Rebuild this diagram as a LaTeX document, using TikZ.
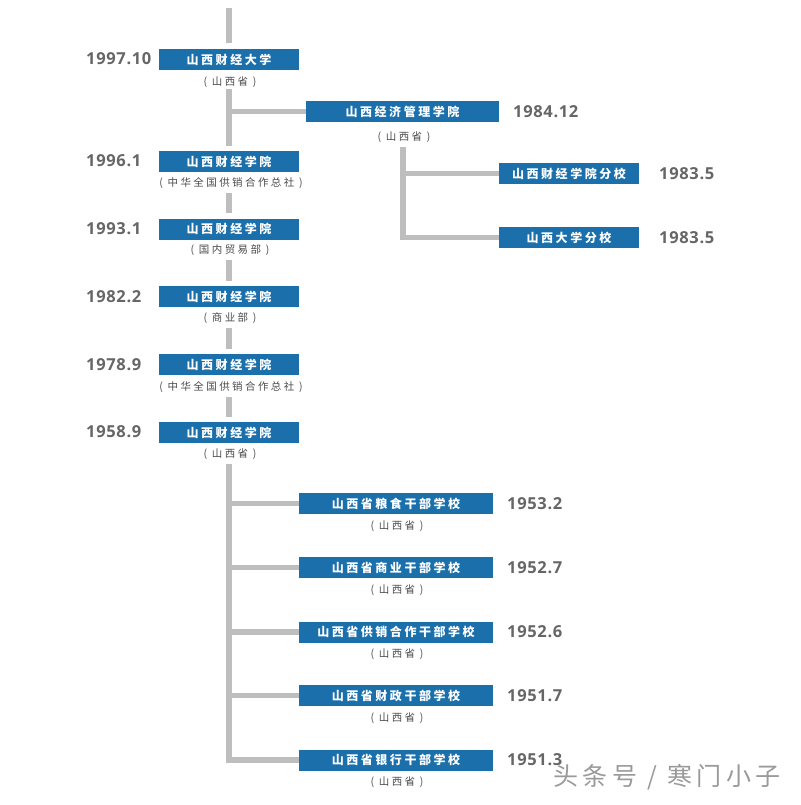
\documentclass[tikz,border=0pt]{standalone}
\usepackage{fontspec}
\setmainfont{Open Sans}
\newfontfamily\cjkbox{Noto Sans CJK SC}[LetterSpace=21]
\newfontfamily\cjksub{Noto Sans CJK SC}[LetterSpace=23]
\newfontfamily\cjkwm{Noto Sans CJK SC}[LetterSpace=18]
\newfontfamily\yearfont{Open Sans}[LetterSpace=4]
\definecolor{boxblue}{HTML}{1B70AB}
\definecolor{trunkgray}{HTML}{BEBEBE}
\definecolor{yeargray}{HTML}{666666}
\definecolor{subgray}{HTML}{4A4A4A}
\definecolor{wmgray}{HTML}{9A9A9A}
\tikzset{
  box/.style={fill=boxblue, text=white, minimum height=21pt, inner sep=0pt,
    font=\cjkbox\bfseries\fontsize{12}{12}\selectfont},
  mainbox/.style={box, minimum width=140pt},
  widebox/.style={box, minimum width=194pt},
  sublab/.style={text=subgray, inner sep=0pt, font=\cjksub\fontsize{10.5}{10.5}\selectfont},
  yearlab/.style={anchor=west, text=yeargray, inner sep=0pt,
    font=\yearfont\bfseries\fontsize{16.5}{16.5}\selectfont},
  trunk/.style={draw=trunkgray, line width=5.5pt, line cap=butt, line join=miter},
  wmtext/.style={text=wmgray, inner sep=0pt, font=\cjkwm\fontsize{25}{25}\selectfont}
}
\begin{document}
\begin{tikzpicture}[x=1pt, y=-1pt]
\useasboundingbox (0,0) rectangle (800,805);
% main column
\coordinate (top) at (229,8);
\node[mainbox] (b1) at (229,59.5) {山西财经大学};
\node[mainbox] (b2) at (229,161.5) {山西财经学院};
\node[mainbox] (b3) at (229,229) {山西财经学院};
\node[mainbox] (b4) at (229,296.5) {山西财经学院};
\node[mainbox] (b5) at (229,364.5) {山西财经学院};
\node[mainbox] (b6) at (229,432.5) {山西财经学院};
\node[sublab] (s1) at (230,82) {( 山西省 )};
\node[sublab] (s2) at (231,183) {( 中华全国供销合作总社 )};
\node[sublab] (s3) at (230,250.5) {( 国内贸易部 )};
\node[sublab] (s4) at (230,318.5) {( 商业部 )};
\node[sublab] (s5) at (231,387) {( 中华全国供销合作总社 )};
\node[sublab] (s6) at (230,454) {( 山西省 )};
\node[yearlab] (y1) at (86,59) {1997.10};
\node[yearlab] (y2) at (86,161) {1996.1};
\node[yearlab] (y3) at (86,229) {1993.1};
\node[yearlab] (y4) at (86,296.5) {1982.2};
\node[yearlab] (y5) at (86,364.5) {1978.9};
\node[yearlab] (y6) at (86,432) {1958.9};
% upper right branch
\node[box, minimum width=193pt] (e1) at (402.5,111.5) {山西经济管理学院};
\node[sublab] (es) at (404,137) {( 山西省 )};
\node[yearlab] (ey) at (513,112) {1984.12};
\node[mainbox] (f1) at (569,173.5) {山西财经学院分校};
\node[mainbox] (f2) at (569,237.5) {山西大学分校};
\node[yearlab] (fy1) at (659,174) {1983.5};
\node[yearlab] (fy2) at (659,238) {1983.5};
% lower branch
\node[widebox] (k1) at (396,503.5) {山西省粮食干部学校};
\node[widebox] (k2) at (396,567.5) {山西省商业干部学校};
\node[widebox] (k3) at (396,632) {山西省供销合作干部学校};
\node[widebox] (k4) at (396,695.5) {山西省财政干部学校};
\node[widebox] (k5) at (396,760) {山西省银行干部学校};
\node[sublab] (t1) at (397,526) {( 山西省 )};
\node[sublab] (t2) at (397,590) {( 山西省 )};
\node[sublab] (t3) at (397,654) {( 山西省 )};
\node[sublab] (t4) at (397,718) {( 山西省 )};
\node[sublab] (t5) at (397,782) {( 山西省 )};
\node[yearlab] (ky1) at (507,503.5) {1953.2};
\node[yearlab] (ky2) at (507,567.5) {1952.7};
\node[yearlab] (ky3) at (507,632) {1952.6};
\node[yearlab] (ky4) at (507,695.5) {1951.7};
\node[yearlab] (ky5) at (507,760) {1951.3};
% connectors
\draw[trunk] (top) -- ([yshift=6pt]b1.north);
\draw[trunk] ([yshift=-19pt]b1.south) -- ([yshift=5pt]b2.north);
\draw[trunk] (e1.west) -- (e1.west -| b1.south);
\draw[trunk] ([yshift=-21pt]b2.south) -- ([yshift=5pt]b3.north);
\draw[trunk] ([yshift=-20pt]b3.south) -- ([yshift=5pt]b4.north);
\draw[trunk] ([yshift=-21pt]b4.south) -- ([yshift=5pt]b5.north);
\draw[trunk] ([yshift=-22pt]b5.south) -- ([yshift=5pt]b6.north);
\draw[trunk] ([yshift=-21pt]b6.south) |- (k5.west);
\draw[trunk] (k1.west) -- (k1.west -| b6.south);
\draw[trunk] (k2.west) -- (k2.west -| b6.south);
\draw[trunk] (k3.west) -- (k3.west -| b6.south);
\draw[trunk] (k4.west) -- (k4.west -| b6.south);
\draw[trunk] ([xshift=0.5pt,yshift=-25pt]e1.south) |- (f2.west);
\draw[trunk] (f1.west) -- (f1.west -| es.south);
% watermark
\node[wmtext] (wm) at (667,777) {头条号 / 寒门小子};
\end{tikzpicture}
\end{document}
